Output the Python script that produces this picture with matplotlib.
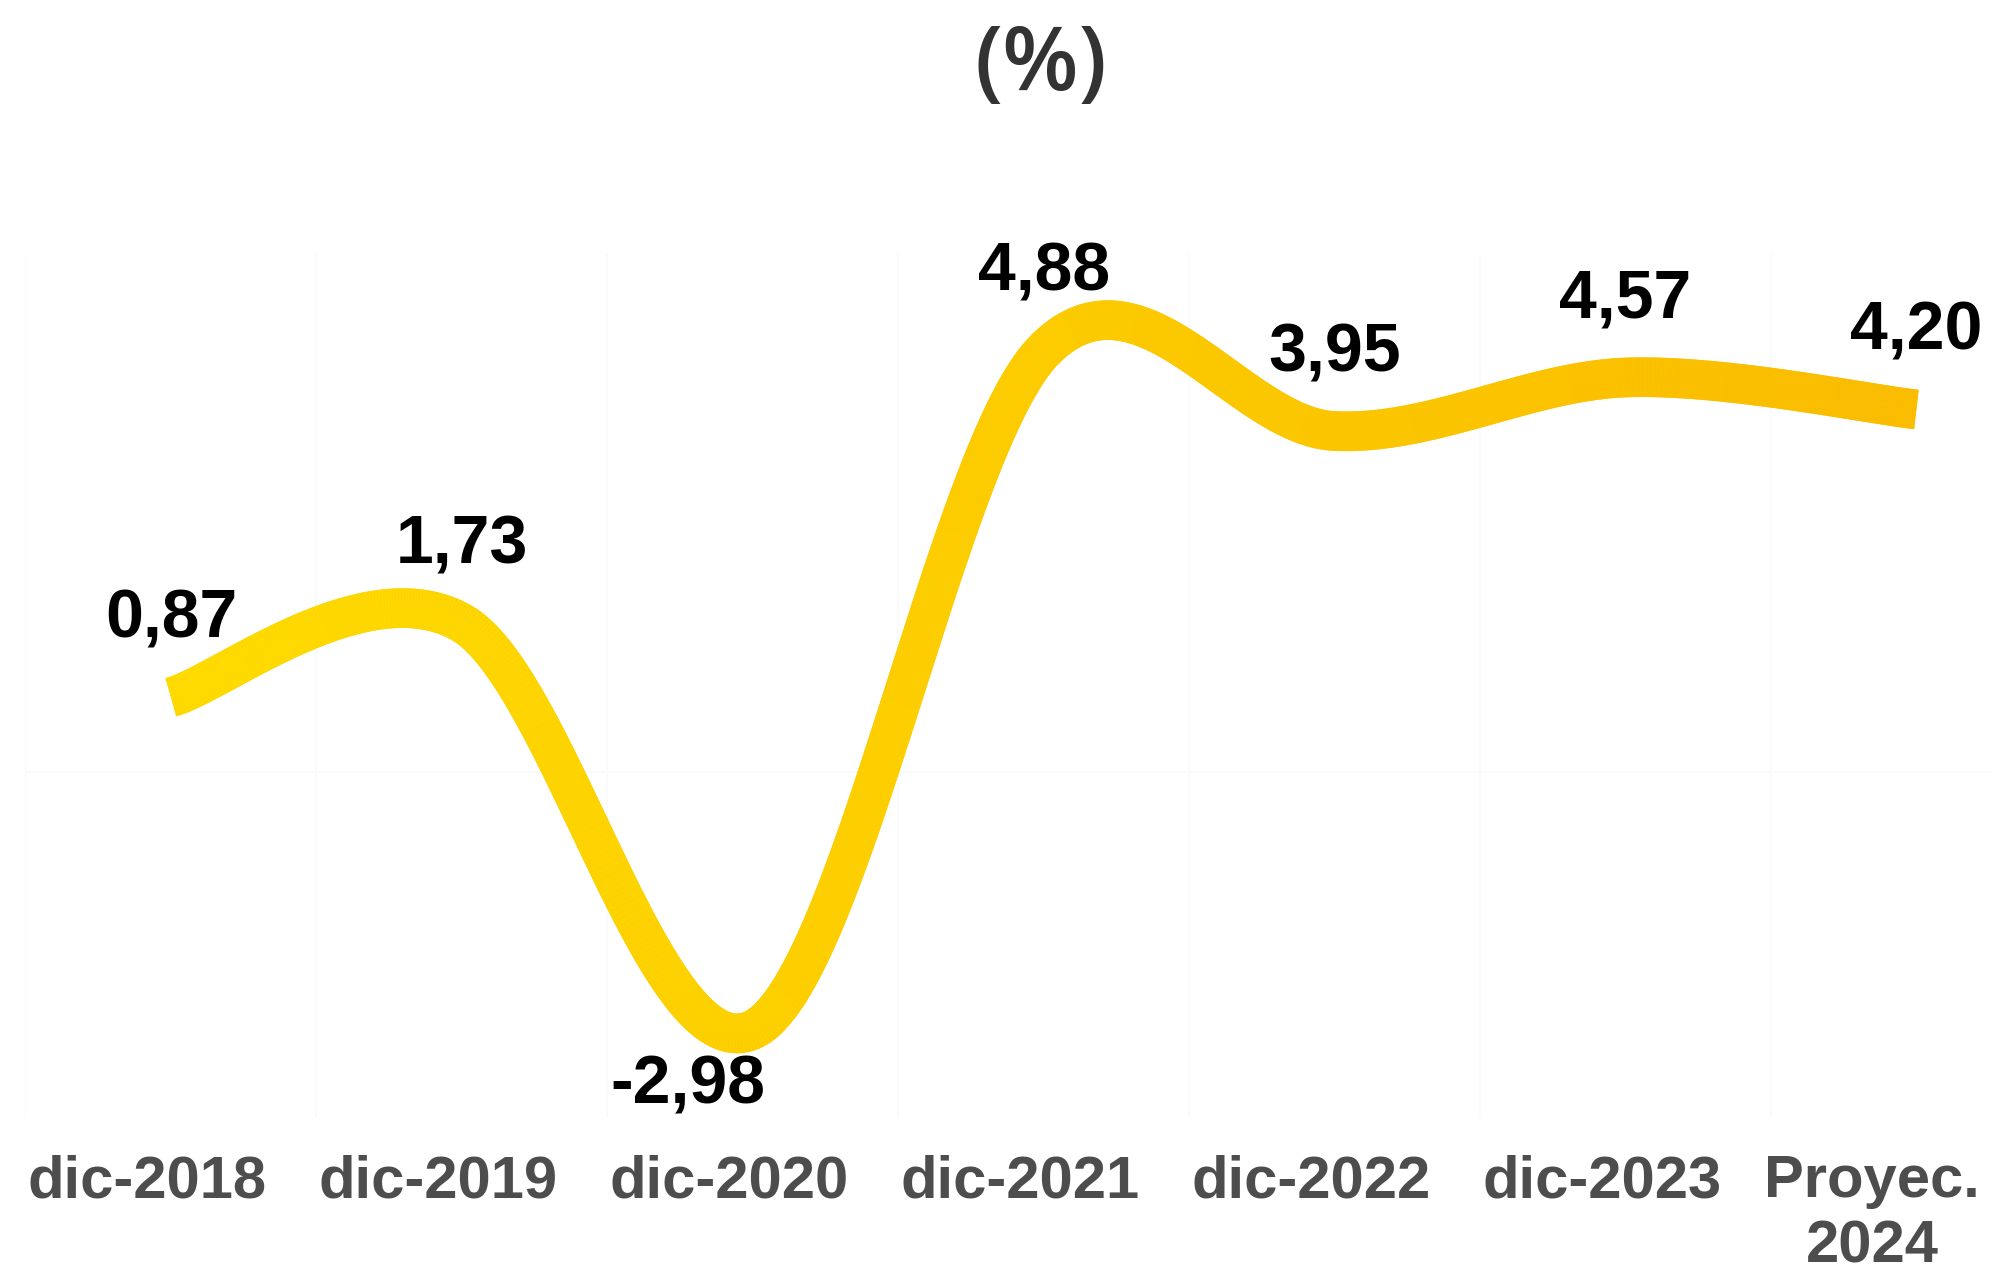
import matplotlib
matplotlib.use("Agg")
import matplotlib.pyplot as plt
import matplotlib.transforms as mtransforms
from matplotlib.bezier import BezierSegment
from matplotlib.collections import LineCollection
from matplotlib.colors import LinearSegmentedColormap
import numpy as np

# Data
periods = ["dic-2018", "dic-2019", "dic-2020", "dic-2021", "dic-2022", "dic-2023", "Proyec.\n2024"]
growth = [0.87, 1.73, -2.98, 4.88, 3.95, 4.57, 4.20]
growth_labels = ["0,87", "1,73", "-2,98", "4,88", "3,95", "4,57", "4,20"]

# label offsets in points (dx, dy), style only
label_offsets = {2: (-47, -53)}

fig = plt.figure(figsize=(19.92, 12.78), dpi=100)
ax = fig.add_axes([0.0128, 0.1252, 0.9872, 0.6761])
ax.set_xlim(-0.5, 6.26)
ax.set_ylim(-4, 6)

# faint category / zero gridlines
for b in np.arange(-0.5, 6.5, 1.0):
    ax.axvline(b, color="#fafafa", lw=1.2, zorder=0)
ax.axhline(0, color="#fafafa", lw=1.2, zorder=0)

# smoothed line (Catmull-Rom style bezier, like a spreadsheet "smooth line")
x = np.arange(len(growth), dtype=float)
y = np.array(growth)
pts = np.column_stack([x, y])
n = len(pts)
curve = []
for i in range(n - 1):
    p0 = pts[i]
    p3 = pts[i + 1]
    prev = pts[i - 1] if i > 0 else pts[i]
    nxt = pts[i + 2] if i + 2 < n else pts[i + 1]
    p1 = p0 + (p3 - prev) / 6.0
    p2 = p3 - (nxt - p0) / 6.0
    seg = BezierSegment(np.array([p0, p1, p2, p3]))
    ts = np.linspace(0, 1, 120, endpoint=(i == n - 2))
    curve.append(seg.point_at_t(ts))
curve = np.vstack(curve)

cmap = LinearSegmentedColormap.from_list("yel", ["#FFDC00", "#FDD000", "#FBC600", "#FABB00"])
norm = plt.Normalize(0, len(growth) - 1)
lw = 28.5

# solid base stroke (fills tiny wedges between gradient pieces)
ax.plot(curve[:, 0], curve[:, 1], color="#FCCB00", lw=lw,
        solid_capstyle="butt", solid_joinstyle="round", zorder=2)
segs = np.stack([curve[:-1], curve[1:]], axis=1)
lc = LineCollection(segs, colors=cmap(norm(curve[:-1, 0])), linewidths=lw,
                    capstyle="butt", zorder=3)
ax.add_collection(lc)

# value labels
for i, (xv, yv, lab) in enumerate(zip(x, y, growth_labels)):
    dx, dy = label_offsets.get(i, (0, 43))
    ax.annotate(lab, (xv, yv), xytext=(dx, dy), textcoords="offset points",
                ha="center", va="baseline", fontsize=49, fontweight="bold",
                family="Liberation Sans", color="black", zorder=4)

# category labels
ax.set_xticks(x)
ax.set_xticklabels(periods, fontsize=43, fontweight="bold", family="Liberation Sans",
                   color="#4d4d4d", linespacing=1.25)
ax.tick_params(axis="x", length=0, pad=26)
ax.set_yticks([])
for i, t in enumerate(ax.get_xticklabels()):
    shift = -17 if i < len(periods) - 1 else -32
    t.set_transform(t.get_transform() + mtransforms.ScaledTranslation(shift / 72, 0, fig.dpi_scale_trans))
for s in ax.spines.values():
    s.set_visible(False)

fig.text(0.5226, 0.948, "(%)", ha="center", va="center", fontsize=64,
         family="Open Sans", fontweight="semibold", color="#333333")

fig.savefig("out.png", dpi=100)
